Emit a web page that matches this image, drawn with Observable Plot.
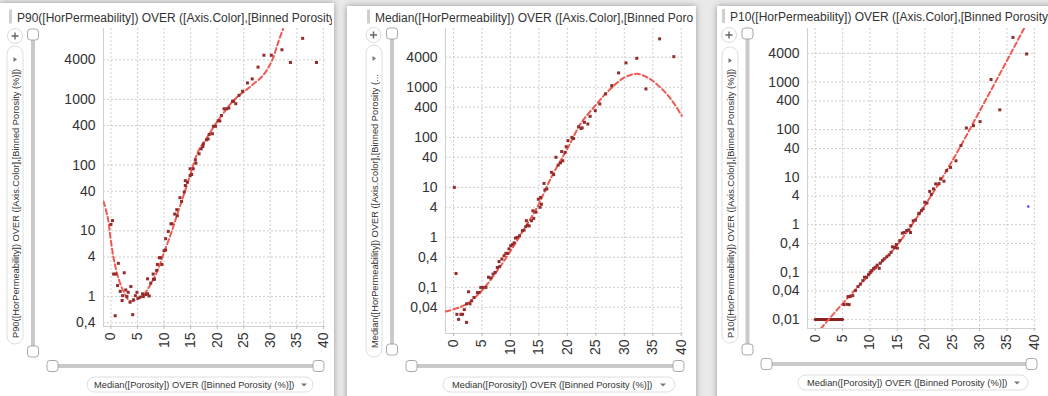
<!DOCTYPE html>
<html>
<head>
<meta charset="utf-8">
<script src="https://cdn.jsdelivr.net/npm/d3@7"></script>
<script src="https://cdn.jsdelivr.net/npm/@observablehq/plot@0.6"></script>
<style>
  html, body { margin: 0; padding: 0; background: #e9e9e9; }
  #page { position: relative; width: 1048px; height: 396px; overflow: hidden; font-family: "Liberation Sans", Arial, sans-serif; }
  #bg { position: absolute; left: 0; top: 0; }
  .plotwrap { position: absolute; top: 0; }
  .plotwrap svg { background: transparent; overflow: visible; }
</style>
</head>
<body>
<div id="page">
  <svg id="bg" width="1048" height="396"></svg>
</div>
<script>
// ---------------- data ----------------
const xTicks = [0, 5, 10, 15, 20, 25, 30, 35, 40];
const p90YTicks = [0.4, 1, 4, 10, 40, 100, 400, 1000, 4000];
const medYTicks = [0.04, 0.1, 0.4, 1, 4, 10, 40, 100, 400, 1000, 4000];
const p10YTicks = [0.01, 0.04, 0.1, 0.4, 1, 4, 10, 40, 100, 400, 1000, 4000];

// panel titles as visible (the panels cut them off)
const titles = [
  "P90([HorPermeability]) OVER ([Axis.Color],[Binned Porosity (",
  "Median([HorPermeability]) OVER ([Axis.Color],[Binned Poro",
  "P10([HorPermeability]) OVER ([Axis.Color],[Binned Porosity"
];
const yLabels = [
  "P90([HorPermeability]) OVER ([Axis.Color],[Binned Porosity (%)])",
  "Median([HorPermeability]) OVER ([Axis.Color],[Binned Porosity (...",
  "P10([HorPermeability]) OVER ([Axis.Color],[Binned Porosity (%)])"
];
const xLabel = "Median([Porosity]) OVER ([Binned Porosity (%)])";

// P90 panel: [median porosity, P90 permeability]
const p90Points = [
  [0.3,14.3],[0,12.5],[1.4,3.2],[0.5,2.2],[0.9,2.2],[2.5,2.3],[1.25,1.47],[1.75,1.2],[2.2,1.03],[2.1,0.87],
  [2.8,1.26],[3.25,1.16],[3.75,1.42],[3.0,1.0],[3.6,0.82],[4.25,0.89],[4.9,1.16],[4.6,1.03],[5.1,0.94],[5.5,0.98],
  [5.95,1.1],[6.1,1.0],[6.6,1.07],[6.9,1.1],[7.2,1.02],[0.8,0.51],[4.1,0.53],[6.9,1.86],[7.5,1.6],[8.0,1.83],
  [8.2,1.83],[7.95,2.2],[8.6,2.5],[8.75,3.07],[9.1,3.9],[9.35,3.9],[9.6,3.07],[10.0,5.0],[10.3,5.1],[10.3,7.6],
  [10.8,9.8],[11.3,12.8],[11.5,12.8],[12.0,18],[12.5,17],[12.4,21],[13.0,32],[13.3,28],[13.8,39],[14.0,49],
  [14.4,55],[14.0,58],[14.9,69],[15.5,88],[14.9,88],[15.9,120],[16.0,107],[15.2,72],[16.6,149],[17.0,177],
  [17.3,192],[17.4,210],[18.0,243],[18.3,250],[18.5,293],[19.1,300],[19.3,390],[19.7,390],[20.2,475],[20.5,470],
  [20.8,569],[21.3,720],[21.8,720],[22.2,740],[22.9,930],[23.1,940],[23.5,860],[24.1,1150],[24.8,1330],[25.7,1780],
  [26.6,2050],[27.7,3100],[28.8,4700],[30.2,4700],[32.2,5700],[33.8,3650],[36.1,8500],[38.7,3650]
];
const p90Fit = [
  [-1.4,28],[-0.6,16],[0,7],[0.6,3.5],[1.5,1.8],[2.5,1.15],[3.6,0.85],[5,0.92],[6.3,1.1],[7.5,1.55],
  [8.8,2.5],[10,4.7],[11.3,9],[12.5,18],[13.8,37],[15,74],[16.4,160],[18,255],[19.5,400],[21,590],
  [22.5,850],[24,1130],[25.6,1420],[27,1760],[28.5,2250],[29.6,3000],[30.5,4200],[31.4,7000],[32.4,11800]
];

// Median panel
const medPoints = [
  [0.15,10],[0.45,0.19],[0.6,0.029],[1.3,0.029],[1.6,0.029],[0.9,0.023],[1.9,0.036],[2.3,0.020],[2.65,0.082],[2.3,0.047],
  [2.9,0.047],[3.2,0.054],[3.6,0.063],[4.2,0.079],[4.5,0.079],[4.8,0.1],[5.2,0.1],[5.7,0.1],[6.15,0.16],[6.55,0.155],
  [6.96,0.185],[7.3,0.2],[7.7,0.25],[8.1,0.26],[8.0,0.33],[8.5,0.37],[8.9,0.43],[9.2,0.48],[9.5,0.48],[9.75,0.59],
  [10.05,0.68],[10.35,0.72],[10.65,0.78],[10.9,0.97],[11.2,1.0],[11.6,1.08],[12.1,1.36],[12.4,1.4],[12.7,1.64],[13.0,1.75],
  [13.3,1.7],[12.8,2.16],[13.7,2.16],[14.1,2.4],[13.95,3.4],[14.5,3.2],[14.9,5.8],[15.2,4.0],[15.45,4.6],[15.3,6.3],
  [16.05,8.9],[16.4,9.3],[15.9,12],[17.2,20],[17.6,18],[18.0,40],[18.4,28],[18.8,31],[19.2,34],[19.0,52],
  [19.6,50],[19.8,65],[20.1,86],[20.8,100],[21.1,95],[22.0,164],[22.4,150],[22.6,155],[23.0,200],[23.6,185],
  [24.0,263],[24.9,342],[25.7,466],[26.7,740],[27.8,1080],[29.0,1940],[30.3,3080],[32.2,3800],[33.8,930],[36.2,9300],
  [38.7,4100]
];
const medFit = [
  [-1.35,0.033],[1.3,0.041],[3.1,0.054],[5.4,0.098],[7.7,0.216],[10.05,0.54],[12.4,1.47],[14.7,4.0],[17.3,17],[20,59],
  [22.3,185],[24.9,430],[27,800],[29.9,1540],[32.2,1860],[34.5,1470],[36.9,860],[38.6,500],[40.1,270]
];

// P10 panel
const p10Points = [
  [5.24,0.0207],[5.8,0.021],[6.2,0.0207],[6.0,0.0305],[6.4,0.0305],[6.86,0.032],[7.35,0.041],[7.8,0.0495],[8.25,0.056],[8.7,0.066],
  [9.0,0.078],[9.4,0.078],[9.75,0.089],[10.05,0.1],[10.35,0.108],[10.65,0.118],[10.96,0.126],[11.3,0.14],[11.7,0.12],[11.86,0.154],
  [12.3,0.175],[12.6,0.19],[13.07,0.21],[13.5,0.23],[13.85,0.26],[14.1,0.34],[14.5,0.33],[15.0,0.32],[14.8,0.38],[15.45,0.46],
  [15.9,0.66],[16.25,0.68],[16.7,0.75],[17.1,0.77],[17.4,0.68],[17.45,0.95],[17.9,1.2],[18.3,1.24],[18.9,1.68],[19.0,1.73],
  [19.4,1.97],[19.7,2.14],[20.0,2.95],[20.4,2.85],[20.9,5.0],[21.2,4.3],[21.6,5.65],[22.0,7.2],[22.6,7.2],[22.9,9.2],
  [23.5,8.2],[24.0,13.7],[24.7,16],[25.7,22],[26.6,46],[27.6,108],[28.9,121],[30.1,147],[32.1,1130],[33.7,260],
  [36.1,8700],[38.6,3900]
];
const p10Floor = [[0,0.01],[5,0.01]];
const p10Fit = [[1.0,0.0064],[4.9,0.021],[10.36,0.1],[14.6,0.33],[20,2.5],[25.7,30],[29.9,230],[34.1,1800],[38.2,14000]];
const p10Other = [[38.9,2.4]];

// ---------------- styling constants ----------------
const pointColor = "#952c2c";
const fitColor = "#ef5b52";
const gridColor = "#cfcfcf";
const commaFmt = d => String(d).replace(".", ",");

// ---------------- background / chrome (non-data decorations) ----------------
const NS = "http://www.w3.org/2000/svg";
const bg = document.getElementById("bg");
function el(tag, attrs, parent = bg) {
  const e = document.createElementNS(NS, tag);
  for (const k in attrs) e.setAttribute(k, attrs[k]);
  parent.appendChild(e);
  return e;
}
const defs = el("defs", {});
const filt = el("filter", {id: "sh", x: "-10%", y: "-10%", width: "120%", height: "120%"}, defs);
el("feDropShadow", {dx: 0, dy: 0, stdDeviation: 3, "flood-color": "#000", "flood-opacity": 0.35}, filt);

const panels = [
  {x: 0, y: 3, w: 334, title: {bx: 9, tx: 17, ty: 21.5},
   plus: [15, 36], pill: {x: 7, y: 46, w: 16, h: 298, tx: 18.5, ty: 338},
   vs: {x: 33, y0: 33, y1: 350}, hs: {y: 366, x0: 52, x1: 318},
   xl: {x: 87, y: 377, w: 226, tx: 94, ax: 304}},
  {x: 347, y: 6, w: 349, title: {bx: 367, tx: 375, ty: 21.5},
   plus: [373.5, 35], pill: {x: 366, y: 45, w: 16, h: 312, tx: 377.5, ty: 348},
   vs: {x: 392, y0: 32, y1: 348}, hs: {y: 366, x0: 411, x1: 678},
   xl: {x: 443, y: 377, w: 232, tx: 452, ax: 663}},
  {x: 717, y: 6, w: 340, title: {bx: 722, tx: 730, ty: 21},
   plus: [729, 35], pill: {x: 722, y: 47, w: 16, h: 296, tx: 733.5, ty: 338},
   vs: {x: 747.5, y0: 32, y1: 348}, hs: {y: 364, x0: 766, x1: 1031},
   xl: {x: 798, y: 375, w: 230, tx: 807, ax: 1017}}
];

panels.forEach((p, i) => {
  el("rect", {x: p.x, y: p.y, width: p.w, height: 420, fill: "#fff", filter: "url(#sh)"});
  const cp = el("clipPath", {id: "cp" + i}, defs);
  el("rect", {x: p.x, y: p.y, width: p.w - 2, height: 420}, cp);
  const g = el("g", {"clip-path": `url(#cp${i})`});
  // title
  el("rect", {x: p.title.bx, y: p.title.ty - 12, width: 3, height: 14, fill: "#cfcfcf"}, g);
  const t = el("text", {x: p.title.tx, y: p.title.ty, "font-size": 12, fill: "#333"}, g);
  t.textContent = titles[i];
  // plus button
  el("circle", {cx: p.plus[0], cy: p.plus[1], r: 7.5, fill: "#fff", stroke: "#dcdcdc"}, g);
  el("path", {d: `M${p.plus[0]-3.5},${p.plus[1]}h7M${p.plus[0]},${p.plus[1]-3.5}v7`, stroke: "#666", "stroke-width": 1.4}, g);
  // y label pill
  el("rect", {x: p.pill.x, y: p.pill.y, width: p.pill.w, height: p.pill.h, rx: 8, fill: "#fff", stroke: "#dedede"}, g);
  const ax = p.pill.x + p.pill.w / 2;
  el("path", {d: `M${ax-1.5},${p.pill.y+11}l3.5,2.5l-3.5,2.5z`, fill: "#777"}, g);
  const yl = el("text", {transform: `translate(${p.pill.tx},${p.pill.ty}) rotate(-90)`, "font-size": 9.3, fill: "#333"}, g);
  yl.textContent = yLabels[i];
  // vertical slider
  el("rect", {x: p.vs.x - 2, y: p.vs.y0, width: 4, height: p.vs.y1 - p.vs.y0, fill: "#c9c9c9"}, g);
  for (const yy of [p.vs.y0 - 4, p.vs.y1 - 4])
    el("rect", {x: p.vs.x - 5.5, y: yy, width: 11, height: 11, rx: 3, fill: "#fff", stroke: "#a9a9a9"}, g);
  // horizontal slider
  el("rect", {x: p.hs.x0, y: p.hs.y - 2, width: p.hs.x1 - p.hs.x0, height: 4, fill: "#c9c9c9"}, g);
  for (const xx of [p.hs.x0 - 5, p.hs.x1 - 5])
    el("rect", {x: xx, y: p.hs.y - 5.5, width: 11, height: 11, rx: 3, fill: "#fff", stroke: "#a9a9a9"}, g);
  // x label pill
  el("rect", {x: p.xl.x, y: p.xl.y, width: p.xl.w, height: 15, rx: 7.5, fill: "#fff", stroke: "#dedede"}, g);
  const xt = el("text", {x: p.xl.tx, y: p.xl.y + 11, "font-size": 9.3, fill: "#333"}, g);
  xt.textContent = xLabel;
  el("path", {d: `M${p.xl.ax-3},${p.xl.y+6.5}h6l-3,3z`, fill: "#777"}, g);
});

// ---------------- charts ----------------
function panelPlot({left, width, height, mL, mR, mT, mB, yDomain, yTicks, points, fit, curve, extra = []}) {
  const xDomain = [-1.4, 40.4];
  const chart = Plot.plot({
    width, height,
    marginLeft: mL, marginRight: mR, marginTop: mT, marginBottom: mB,
    style: {fontFamily: "'Liberation Sans', Arial, sans-serif", fontSize: "14px", color: "#333", background: "transparent"},
    x: {domain: xDomain, label: null},
    y: {type: "log", domain: yDomain, label: null, axis: null},
    marks: [
      Plot.gridX({ticks: xTicks, stroke: gridColor, strokeOpacity: 1, strokeDasharray: "2,2"}),
      Plot.gridY({ticks: yTicks, stroke: gridColor, strokeOpacity: 1, strokeDasharray: "2,2"}),
      Plot.ruleX([xDomain[0]], {stroke: "#d0d0d0"}),
      Plot.ruleY([yDomain[0]], {stroke: "#d0d0d0"}),
      // y tick labels drawn through the y scale (comma decimals, all ticks kept)
      Plot.text(yTicks, {x: xDomain[0], y: d => d, text: commaFmt, textAnchor: "end", dx: -8,
        fontSize: 14, fill: "#333", clip: false}),
      Plot.axisX({ticks: xTicks, tickFormat: d => String(d), tickRotate: -90, tickSize: 3, tickPadding: 3, stroke: "#bbb", label: null}),
      ...extra,
      Plot.line(fit, {x: d => d[0], y: d => d[1], stroke: fitColor, strokeWidth: 2, strokeDasharray: "5,3", curve, clip: true}),
      Plot.dot(points, {x: d => d[0], y: d => d[1], symbol: "square", r: 1.7, fill: pointColor, stroke: "none"})
    ]
  });
  const wrap = document.createElement("div");
  wrap.className = "plotwrap";
  wrap.style.left = left + "px";
  wrap.appendChild(chart);
  document.getElementById("page").appendChild(wrap);
}

panelPlot({left: 0, width: 335, height: 360, mL: 103, mR: 10, mT: 28, mB: 34,
  yDomain: [0.35, 12000], yTicks: p90YTicks, points: p90Points, fit: p90Fit, curve: "catmull-rom"});

panelPlot({left: 345, width: 350, height: 360, mL: 100, mR: 12, mT: 28, mB: 27,
  yDomain: [0.012, 15000], yTicks: medYTicks, points: medPoints, fit: medFit, curve: "catmull-rom"});

panelPlot({left: 717, width: 331, height: 360, mL: 90, mR: 12, mT: 28, mB: 32,
  yDomain: [0.0065, 13400], yTicks: p10YTicks, points: p10Points, fit: p10Fit, curve: "monotone-x",
  extra: [
    Plot.line(p10Floor, {x: d => d[0], y: d => d[1], stroke: "#8a2020", strokeWidth: 3}),
    Plot.dot(p10Other, {x: d => d[0], y: d => d[1], r: 1.2, fill: "#3b3bff"})
  ]});
</script>
</body>
</html>
